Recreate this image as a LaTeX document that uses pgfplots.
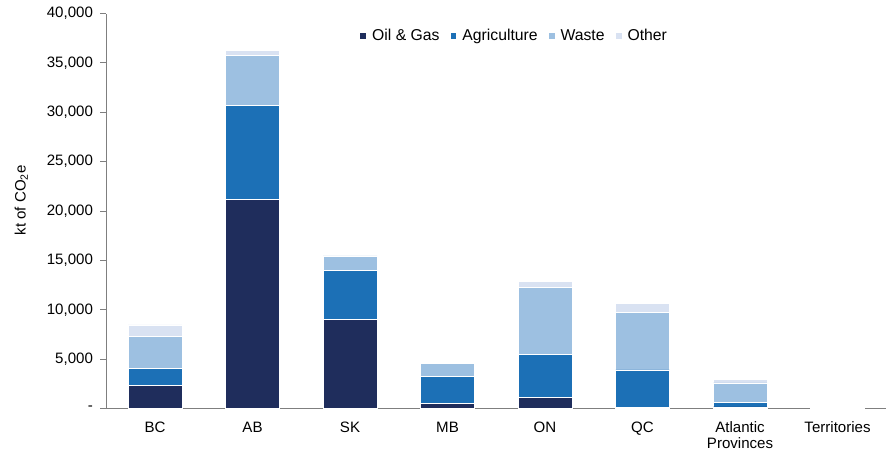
\documentclass[border=0pt]{standalone}
\usepackage{pgfplots}
\pgfplotsset{compat=1.18}
\usepackage{fontspec}
\setmainfont{Liberation Sans}
\definecolor{cOil}{HTML}{1F2D5C}
\definecolor{cAgr}{HTML}{1C70B6}
\definecolor{cWas}{HTML}{9DC0E1}
\definecolor{cOth}{HTML}{D9E2F2}
\definecolor{axgray}{HTML}{7F7F7F}
\begin{document}
\begin{tikzpicture}[x=0.75pt,y=0.75pt]
\path[use as bounding box] (0,0) rectangle (889,452);
\begin{axis}[
  at={(109,44)}, anchor=south west,
  scale only axis, width=585pt, height=296.25pt,
  ybar stacked, bar width=40.5pt,
  xmin=-0.5, xmax=7.5, ymin=0, ymax=40000,
  scaled y ticks=false,
  xtick={0,...,7},
  xticklabels={BC,AB,SK,MB,ON,QC,{Atlantic\\Provinces},Territories},
  xticklabel style={align=center, font=\fontsize{11.3}{11.5}\selectfont, yshift=-2pt},
  ytick={0,5000,...,40000},
  yticklabels={-,{5,000},{10,000},{15,000},{20,000},{25,000},{30,000},{35,000},{40,000}},
  yticklabel style={font=\fontsize{11.3}{13}\selectfont, xshift=-2pt},
  axis x line*=bottom, axis y line*=left,
  x axis line style={draw=axgray, line width=0.9pt, -},
  y axis line style={draw=axgray, line width=0.9pt, -},
  xtick style={draw=none},
  ytick style={draw=axgray, line width=0.7pt},
  tick align=outside, major tick length=4.5pt,
  ylabel={kt of CO\textsubscript{2}e},
  ylabel style={font=\fontsize{11.3}{13}\selectfont, at={(rel axis cs:-0.109,0.527)}, anchor=center},
  legend columns=4,
  legend style={draw=none, fill=none, at={(rel axis cs:0.324,0.944)}, anchor=west,
    font=\fontsize{11.8}{13}\selectfont, inner sep=0pt,
    /tikz/every odd column/.append style={column sep=2.2pt},
    /tikz/every even column/.append style={column sep=5.5pt}},
  legend image code/.code={\fill[#1] (0pt,-2.6pt) rectangle (5.2pt,2.6pt);},
  every axis plot/.append style={draw=white, line width=0.3pt},
]
\addplot[fill=cOil] coordinates {(0,2360) (1,21160) (2,9050) (3,550) (4,1150) (5,100) (6,170) (7,20)};
\addplot[fill=cAgr] coordinates {(0,1690) (1,9520) (2,4950) (3,2690) (4,4320) (5,3820) (6,470) (7,10)};
\addplot[fill=cWas] coordinates {(0,3270) (1,5120) (2,1460) (3,1350) (4,6780) (5,5830) (6,1960) (7,60)};
\addplot[fill=cOth] coordinates {(0,1150) (1,450) (2,0) (3,80) (4,610) (5,880) (6,340) (7,20)};
\legend{Oil \& Gas, Agriculture, Waste, Other}
\end{axis}
\end{tikzpicture}
\end{document}
